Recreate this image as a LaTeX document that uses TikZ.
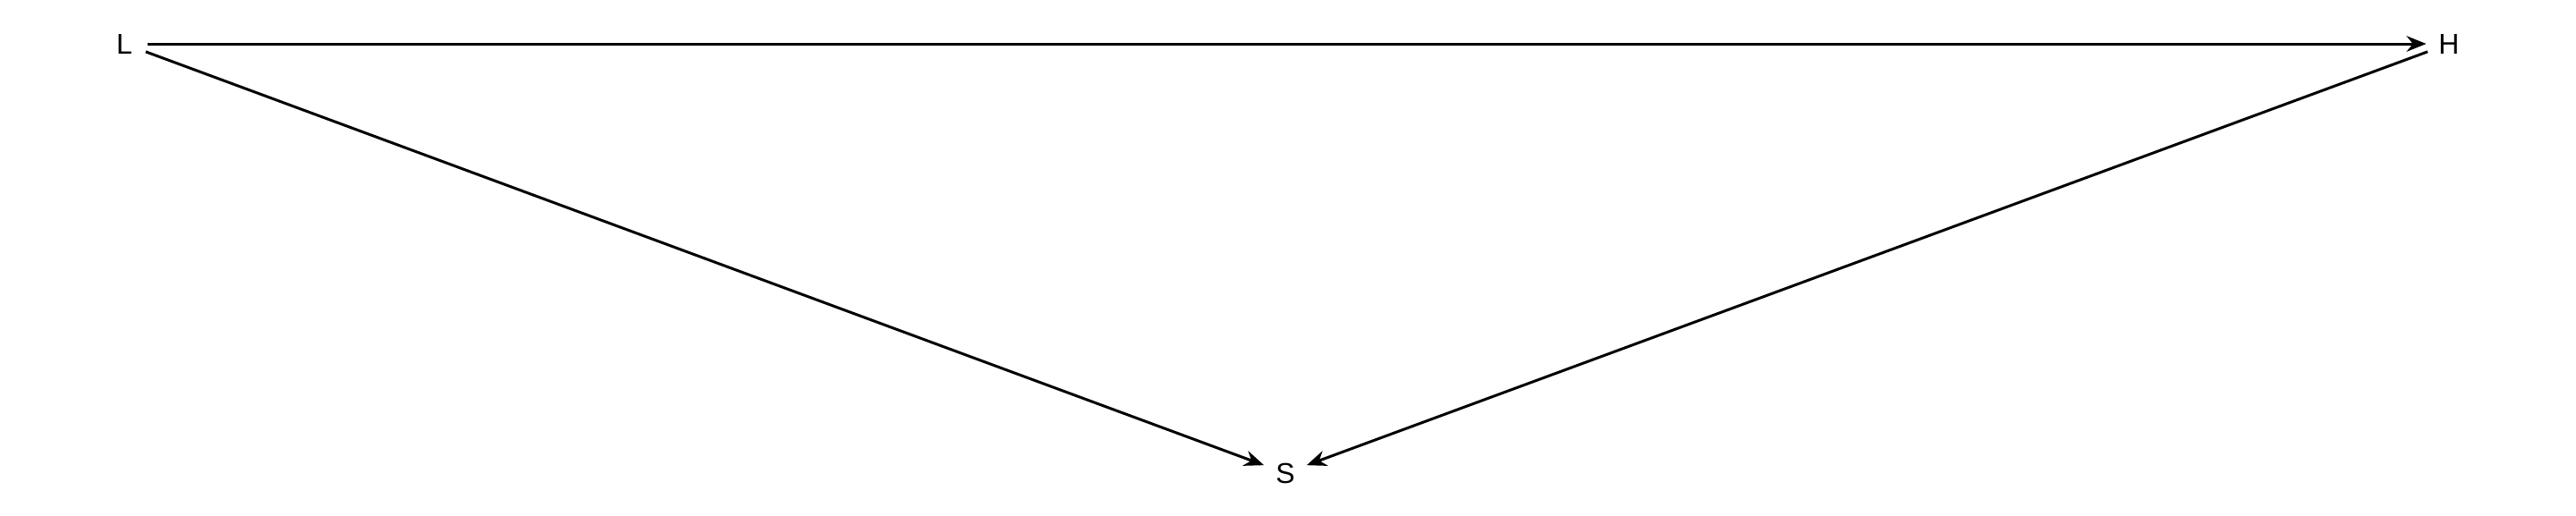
\documentclass[tikz,border=0pt]{standalone}
\usepackage{fontspec}
\setmainfont{Liberation Sans}
\usetikzlibrary{arrows.meta}

\begin{document}
\begin{tikzpicture}[>={Stealth[length=5.5bp,width=4.4bp,inset=1.8bp]},x=1bp,y=1bp,
	vertex/.style={circle,inner sep=0pt,minimum size=12bp,font=\fontsize{8bp}{10bp}\selectfont},
	every path/.style={line width=0.75bp}]
	
	\useasboundingbox (0,0) rectangle (720,144);
	
	\node [vertex] (l) at (34.75,131.75) {L};
	\node [vertex] (h) at (684.5,131.75) {H};
	\node [vertex] (s) at (359.25,11.75) {S};
	
	\draw [->] (l) -- (h);
	\draw [->] (l) -- (s);
	\draw [->] (h) -- (s);
	
\end{tikzpicture}
\end{document}
